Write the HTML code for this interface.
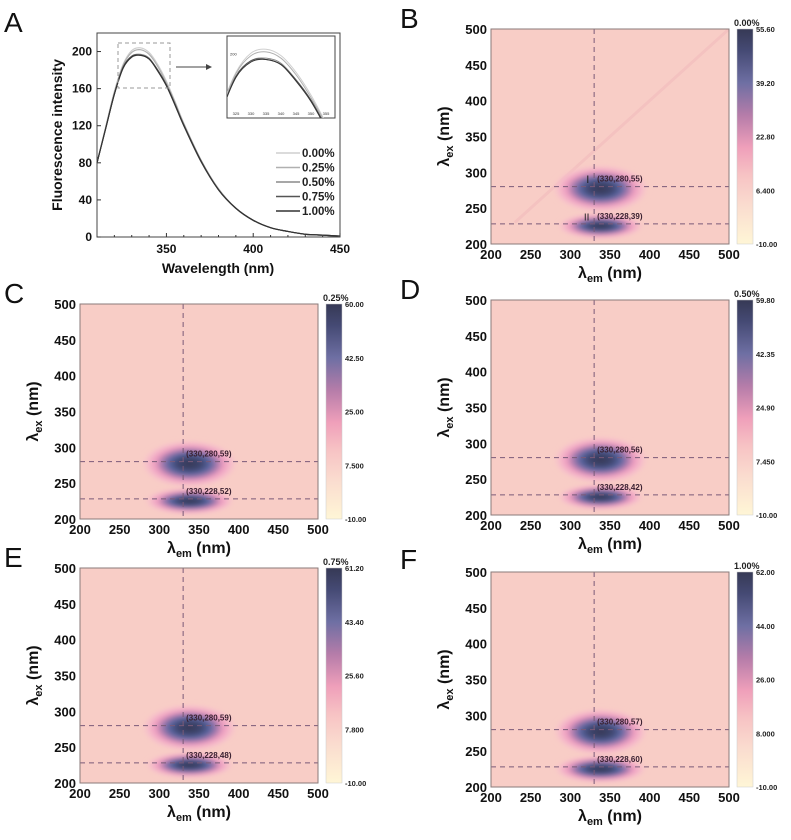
<!DOCTYPE html>
<html><head><meta charset="utf-8"><style>
body{margin:0;background:#fff;}
svg text{font-family:"Liberation Sans",Arial,sans-serif;}
</style></head><body>
<svg id="root" width="791" height="835" viewBox="0 0 791 835" xmlns="http://www.w3.org/2000/svg">
<defs>
<linearGradient id="cbar" x1="0" y1="1" x2="0" y2="0">
<stop offset="0" stop-color="#fff6d6"/><stop offset="0.18" stop-color="#fadccf"/><stop offset="0.32" stop-color="#f7c3c4"/>
<stop offset="0.45" stop-color="#ef9fba"/><stop offset="0.6" stop-color="#b57ca9"/><stop offset="0.75" stop-color="#6e6fa3"/>
<stop offset="0.9" stop-color="#454a74"/><stop offset="1" stop-color="#363955"/></linearGradient>
<radialGradient id="blob"><stop offset="0" stop-color="#363955"/><stop offset="0.25" stop-color="#3f4670"/><stop offset="0.42" stop-color="#5b66a0"/>
<stop offset="0.56" stop-color="#a77aad"/><stop offset="0.7" stop-color="#ee9ec0"/><stop offset="0.85" stop-color="#f6bccb"/><stop offset="1" stop-color="#f8cbc6" stop-opacity="0"/></radialGradient>
<filter id="soft"><feGaussianBlur stdDeviation="2"/></filter>
</defs>
</svg>
<script>
const NS="http://www.w3.org/2000/svg";
const root=document.getElementById('root');
function el(tag,attrs,parent,text){const e=document.createElementNS(NS,tag);for(const k in attrs)e.setAttribute(k,attrs[k]);if(text!==undefined)e.textContent=text;(parent||root).appendChild(e);return e;}

// ---------- Panel A data ----------
const wavelengths=[310,315,320,325,330,335,340,345,350,355,360,370,380,390,400,410,420,430,440,450];
const s000=[80,119,157,186,201,204,199,186,168,146,123,83,52,31,18,10,6,3,2,1];
const s025=[80,118,156,185,199,202,197,184,166,145,122,82,52,31,18,10,6,3,2,1];
const s050=[80,117,154,182,195,197,193,180,164,143,121,82,51,31,18,10,6,3,2,1];
const s075=[80,117,154,183,195,196,192,180,164,143,121,82,51,31,18,10,6,3,2,1];
const s100=[80,117,154,182,194,196,192,179,163,142,120,81,51,31,18,10,6,3,2,1];
const seriesNames=["0.00%","0.25%","0.50%","0.75%","1.00%"];
const seriesColors=["#cfcfcf","#b0b0b0","#8a8a8a","#555","#333"];
const yTicksA=[0,40,80,120,160,200];
const xTicksA=[350,400,450];

// ---------- Heatmap data ----------
const panelIds=["B","C","D","E","F"];
const concLabels=["0.00%","0.25%","0.50%","0.75%","1.00%"];
const peakI=[55,59,56,59,57];
const peakII=[39,52,42,48,60];
const cbarMax=[55.6,60.0,59.8,61.2,62.0];
const cbarMid1=["39.20","42.50","42.35","43.40","44.00"];
const cbarMid2=["22.80","25.00","24.90","25.60","26.00"];
const cbarMid3=["6.400","7.500","7.450","7.800","8.000"];
const peakEm=330, peakIEx=280, peakIIEx=228;
const hmTicks=[200,250,300,350,400,450,500];

// ---------- Panel A ----------
(function(){
  const L=97,R=340,T=33,B=237;
  const g=el('g',{});
  const xs=v=>L+(v-310)/(450-310)*(R-L);
  const ys=v=>B-v/220*(B-T);
  el('text',{x:4,y:32,'font-size':28,fill:'#111',},g,'A');
  el('rect',{x:L,y:T,width:R-L,height:B-T,fill:'none',stroke:'#444','stroke-width':1,},g);
  yTicksA.forEach(v=>{el('line',{x1:L,x2:L+4,y1:ys(v),y2:ys(v),stroke:'#333'},g);
    const t=el('text',{x:L-5,y:ys(v)+4,'font-size':12,'font-weight':'bold','text-anchor':'end',fill:'#111'},g,v);
    });
  xTicksA.forEach(v=>{el('line',{x1:xs(v),x2:xs(v),y1:B,y2:B-4,stroke:'#333'},g);
    const t=el('text',{x:xs(v),y:B+16,'font-size':12,'font-weight':'bold','text-anchor':'middle',fill:'#111'},g,v);
    });
  for(let v=320;v<450;v+=10){if(v%50)el('line',{x1:xs(v),x2:xs(v),y1:B,y2:B-2,stroke:'#333'},g);}
  el('text',{x:218,y:273,'font-size':14,'font-weight':'bold','text-anchor':'middle',fill:'#111',},g,'Wavelength (nm)');
  el('text',{x:0,y:0,transform:'translate(62,135) rotate(-90)','font-size':14,'font-weight':'bold','text-anchor':'middle',fill:'#111',},g,'Fluorescence intensity');
  const all=[s000,s025,s050,s075,s100];
  function smooth(xf,yf,vals){let pts=wavelengths.map((w,i)=>[xf(w),yf(vals[i])]);let d='M'+pts[0][0]+','+pts[0][1];
    for(let i=0;i<pts.length-1;i++){const p0=pts[i-1]||pts[i],p1=pts[i],p2=pts[i+1],p3=pts[i+2]||p2;
      d+=` C${p1[0]+(p2[0]-p0[0])/6},${p1[1]+(p2[1]-p0[1])/6} ${p2[0]-(p3[0]-p1[0])/6},${p2[1]-(p3[1]-p1[1])/6} ${p2[0]},${p2[1]}`;}return d;}
  all.forEach((s,i)=>{const p=el('path',{d:smooth(xs,ys,s),fill:'none',stroke:seriesColors[i],'stroke-width':1.2},g);
    });
  el('rect',{x:118,y:43,width:52,height:45,fill:'none',stroke:'#999','stroke-dasharray':'4,3',},g);
  el('line',{x1:176,y1:67,x2:210,y2:67,stroke:'#444',},g);
  el('path',{d:'M212,67 L206,64 L206,70 Z',fill:'#444'},g);
  const iL=227,iR=335,iT=36,iB=118;
  const ig=el('g',{},g);
  el('clipPath',{id:'insclip'},ig);
  el('rect',{x:iL,y:iT,width:iR-iL,height:iB-iT},document.getElementById('insclip'));
  el('rect',{x:iL,y:iT,width:iR-iL,height:iB-iT,fill:'#fff',stroke:'#444'},ig);
  const ixs=v=>iL+(v-322)/(358-322)*(iR-iL);
  const iys=v=>iT+12+(205-v)/(205-150)*(iB-iT-12);
  const cg=el('g',{'clip-path':'url(#insclip)'},ig);
  all.forEach((s,i)=>{const p=el('path',{d:smooth(ixs,iys,s),fill:'none',stroke:seriesColors[i],'stroke-width':1},cg);
    });
  [325,330,335,340,345,350,355].forEach(v=>el('text',{x:ixs(v),y:iB-3,'font-size':4,'text-anchor':'middle',fill:'#333'},ig,v));
  el('text',{x:iL+3,y:iys(200)+1,'font-size':4,fill:'#333'},ig,'200');
  seriesNames.forEach((n,i)=>{const y=153+i*14.5;
    const lg=el('g',{},g);
    el('line',{x1:276,x2:300,y1:y,y2:y,stroke:seriesColors[i],'stroke-width':1.5},lg);
    el('text',{x:302,y:y+4,'font-size':11.5,'font-weight':'bold',fill:'#222'},lg,n);});
})();

// ---------- Heatmaps ----------
const layouts={B:{L:491,T:29,pl:[400,28]},C:{L:80,T:304,pl:[4,303]},D:{L:491,T:300,pl:[400,299]},E:{L:80,T:568,pl:[4,567]},F:{L:491,T:572,pl:[400,569]}};
panelIds.forEach((id,k)=>{
  const lay=layouts[id],L=lay.L,T=lay.T,W=238,H=215,R=L+W,B=T+H;
  const xs=v=>L+(v-200)/300*W, ys=v=>B-(v-200)/300*H;
  const g=el('g',{});
  const pl=el('text',{x:lay.pl[0],y:lay.pl[1],'font-size':28,fill:'#111'},g,id);
  
  const cid='clip'+id;el('clipPath',{id:cid},g);el('rect',{x:L,y:T,width:W,height:H},document.getElementById(cid));
  el('rect',{x:L,y:T,width:W,height:H,fill:'#f8cdc6',},g);
  const hg=el('g',{'clip-path':'url(#'+cid+')'},g);
  if(id==='B'){el('line',{x1:xs(230),y1:ys(230),x2:xs(500),y2:ys(500),stroke:'#f4c2c0','stroke-width':3,},hg);}
  [[peakIEx,peakI[k],62,34],[peakIIEx,peakII[k],60,20]].forEach(([ex,v,rx,ry],j)=>{
    const s=0.75+0.25*v/cbarMax[k];
    const e=el('ellipse',{cx:xs(peakEm+8),cy:ys(ex-3),rx:xs(200+rx*s)-L,ry:ys(200)-ys(200+ry*s),fill:'url(#blob)',filter:'url(#soft)'},hg);
    });
  el('line',{x1:xs(peakEm),x2:xs(peakEm),y1:T,y2:B,stroke:'#7a5a78','stroke-dasharray':'5,4','stroke-width':1,},g);
  [peakIEx,peakIIEx].forEach(ex=>{const l=el('line',{x1:L,x2:R,y1:ys(ex),y2:ys(ex),stroke:'#7a5a78','stroke-dasharray':'5,4','stroke-width':1},g);
    });
  el('text',{x:xs(peakEm)+3,y:ys(peakIEx)-5,'font-size':8,'font-weight':'bold',fill:'#3a2030',},g,`(${peakEm},${peakIEx},${peakI[k]})`);
  el('text',{x:xs(peakEm)+3,y:ys(peakIIEx)-5,'font-size':8,'font-weight':'bold',fill:'#3a2030',},g,`(${peakEm},${peakIIEx},${peakII[k]})`);
  if(id==='B'){el('text',{x:xs(320),y:ys(285),'font-size':11,'font-family':'Liberation Serif',fill:'#222'},g,'I');el('text',{x:xs(317),y:ys(233),'font-size':10,'font-family':'Liberation Serif',fill:'#222'},g,'II');}
  el('rect',{x:L,y:T,width:W,height:H,fill:'none',stroke:'#8a7a7a','stroke-width':1,},g);
  hmTicks.forEach(v=>{
    const tx=el('text',{x:xs(v),y:B+15,'font-size':13,'font-weight':'bold','text-anchor':'middle',fill:'#111'},g,v);
    
    const ty=el('text',{x:L-4,y:ys(v)+5,'font-size':13,'font-weight':'bold','text-anchor':'end',fill:'#111'},g,v);
    });
  const xt=el('text',{x:L+W/2,y:B+34,'font-size':16,'font-weight':'bold','text-anchor':'middle',fill:'#111'},g);
  
  xt.innerHTML='λ<tspan font-size="11" dy="4">em</tspan><tspan dy="-4"> (nm)</tspan>';
  const yt=el('text',{transform:`translate(${L-42},${T+H/2}) rotate(-90)`,'font-size':16,'font-weight':'bold','text-anchor':'middle',fill:'#111'},g);
  
  yt.innerHTML='λ<tspan font-size="11" dy="4">ex</tspan><tspan dy="-4"> (nm)</tspan>';
  const cx=R+8,cw=16;
  el('rect',{x:cx,y:T,width:cw,height:H,fill:'url(#cbar)',stroke:'#ccc','stroke-width':0.5,},g);
  const cy=v=>B-(v+10)/(cbarMax[k]+10)*H;
  const cl=[[cbarMax[k].toFixed(2),cbarMax[k]],[cbarMid1[k],+cbarMid1[k]],[cbarMid2[k],+cbarMid2[k]],[cbarMid3[k],+cbarMid3[k]],['-10.00',-10]];
  cl.forEach(([t,v])=>{const tt=el('text',{x:cx+cw+3,y:cy(v)+3,'font-size':7.5,'font-weight':'bold',fill:'#222'},g,t);
    });
  el('text',{x:cx-3,y:T-3,'font-size':9,'font-weight':'bold',fill:'#222',},g,concLabels[k]);
});
</script>
</body></html>
